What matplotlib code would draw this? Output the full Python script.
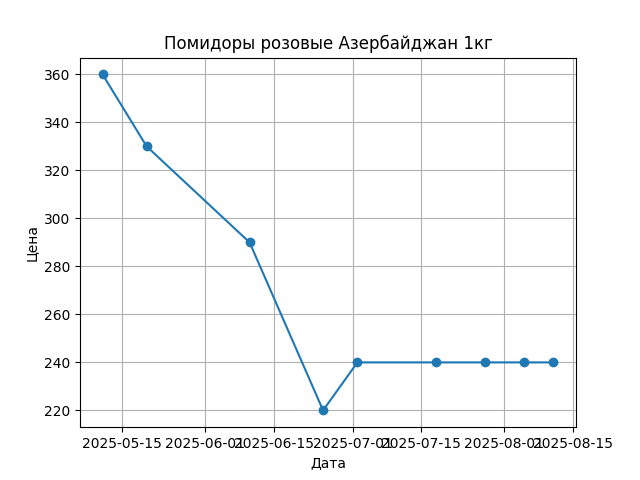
import pandas as pd
import matplotlib.pyplot as plt

dates = ['2025-05-11', '2025-05-20', '2025-06-10', '2025-06-25', '2025-07-02',
         '2025-07-18', '2025-07-28', '2025-08-05', '2025-08-11']
prices = [360, 330, 290, 220, 240, 240, 240, 240, 240]

df = pd.DataFrame({'date': pd.to_datetime(dates), 'price': prices})

fig = plt.figure(figsize=(6.4, 4.8), dpi=100)
plt.plot(df['date'], df['price'], marker='o')
plt.title('Помидоры розовые Азербайджан 1кг')
plt.xlabel('Дата')
plt.ylabel('Цена')
plt.grid(True)
plt.savefig('out.png')
